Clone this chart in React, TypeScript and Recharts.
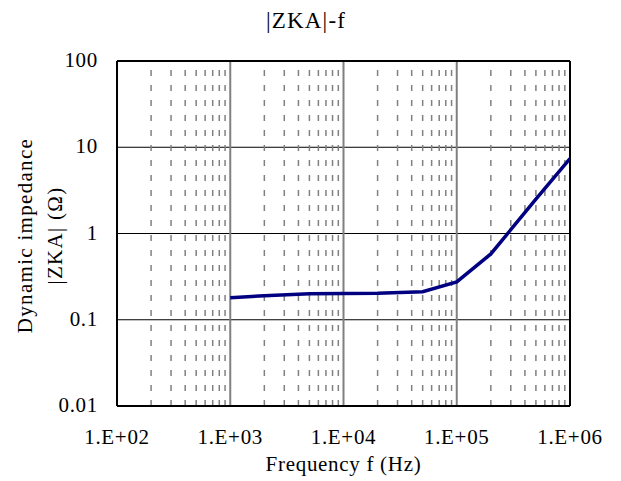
import React from 'react';
import { LineChart, Line, XAxis, YAxis, ReferenceLine, CartesianGrid } from 'recharts';

const freq = [1e3, 2e3, 5e3, 1e4, 2e4, 5e4, 1e5, 2e5, 5e5, 1e6];
const zka = [0.18, 0.19, 0.2, 0.202, 0.203, 0.211, 0.275, 0.58, 2.5, 7.4];

const xTicks = [1e2, 1e3, 1e4, 1e5, 1e6];
const xTickLabels = ['1.E+02', '1.E+03', '1.E+04', '1.E+05', '1.E+06'];
const yTicks = [0.01, 0.1, 1, 10, 100];
const yTickLabels = ['0.01', '0.1', '1', '10', '100'];
const majorX = [1e3, 1e4, 1e5];
const minorMultipliers = [2, 3, 4, 5, 6, 7, 8, 9];
const decades = [1e2, 1e3, 1e4, 1e5];

const titleText = '|ZKA|-f';
const xTitle = 'Frequency f (Hz)';
const yTitle1 = 'Dynamic impedance';
const yTitle2 = '|ZKA| (Ω)';

const data = freq.map((f, i) => ({ f, z: zka[i] }));
const minorX: number[] = [];
decades.forEach((d) => minorMultipliers.forEach((m) => minorX.push(d * m)));

const FONT = 'Liberation Serif';
const txtProps = { fontFamily: FONT, fontSize: 21, fill: '#000', letterSpacing: 0.7 };
const yLabProps = { fontFamily: FONT, fontSize: 21, fill: '#000', letterSpacing: 1.3 };

const XTick = (props: any) => {
  const i = xTicks.indexOf(props.payload.value);
  return (
    <text x={props.x} y={props.y + 30} textAnchor="middle" {...txtProps}>
      {xTickLabels[i]}
    </text>
  );
};

const YTick = (props: any) => {
  const i = yTicks.indexOf(props.payload.value);
  return (
    <text x={props.x - 11} y={props.y + 6} textAnchor="end" {...txtProps}>
      {yTickLabels[i]}
    </text>
  );
};

const YLabel = (props: any) => {
  const vb = props.viewBox || { x: 0, y: 53, width: 109, height: 345 };
  const cy = vb.y + vb.height / 2 + 2;
  return (
    <g>
      <text
        x={17}
        y={cy}
        transform={`rotate(-90, 17, ${cy})`}
        textAnchor="middle"
        dominantBaseline="central"
        {...yLabProps}
      >
        {yTitle1}
      </text>
      <text
        x={47}
        y={cy}
        transform={`rotate(-90, 47, ${cy})`}
        textAnchor="middle"
        dominantBaseline="central"
        {...yLabProps}
      >
        {yTitle2}
      </text>
    </g>
  );
};

const XLabel = (props: any) => {
  const vb = props.viewBox || { x: 109, y: 398, width: 453, height: 75 };
  return (
    <text x={vb.x + vb.width / 2} y={vb.y + 65} textAnchor="middle" {...txtProps}>
      {xTitle}
    </text>
  );
};

export default function App() {
  return (
    <div style={{ position: 'relative', width: 613, height: 473 }}>
      <div
        style={{
          position: 'absolute',
          left: 298,
          top: 0,
          transform: 'translateX(-50%)',
          fontFamily: FONT,
          fontSize: 23,
          letterSpacing: 1.2,
          whiteSpace: 'nowrap',
          color: '#000',
        }}
      >
        {titleText}
      </div>
      <LineChart
        width={613}
        height={473}
        data={data}
        margin={{ top: 53, right: 51, bottom: 0, left: 0 }}
      >
        <CartesianGrid horizontal={true} vertical={false} stroke="#000" strokeWidth={1} />
        {minorX.map((v) => (
          <ReferenceLine
            key={'m' + v}
            x={v}
            stroke="#808080"
            strokeWidth={1.5}
            strokeDasharray="6 9"
          />
        ))}
        {majorX.map((v) => (
          <ReferenceLine key={'M' + v} x={v} stroke="#808080" strokeWidth={2} />
        ))}
        <XAxis
          dataKey="f"
          type="number"
          scale="log"
          domain={[100, 1e6]}
          ticks={xTicks}
          allowDataOverflow
          height={75}
          tickLine={false}
          axisLine={{ stroke: '#000', strokeWidth: 2 }}
          tick={<XTick />}
          interval={0}
          label={{ content: <XLabel /> }}
        />
        <YAxis
          type="number"
          scale="log"
          domain={[0.01, 100]}
          ticks={yTicks}
          allowDataOverflow
          width={109}
          tickLine={false}
          axisLine={{ stroke: '#000', strokeWidth: 2 }}
          tick={<YTick />}
          interval={0}
          label={{ content: <YLabel /> }}
        />
        <ReferenceLine y={100} stroke="#000" strokeWidth={2} />
        <ReferenceLine x={1e6} stroke="#000" strokeWidth={2} />
        <Line
          type="linear"
          dataKey="z"
          stroke="#000080"
          strokeWidth={3.5}
          dot={false}
          isAnimationActive={false}
        />
      </LineChart>
    </div>
  );
}
